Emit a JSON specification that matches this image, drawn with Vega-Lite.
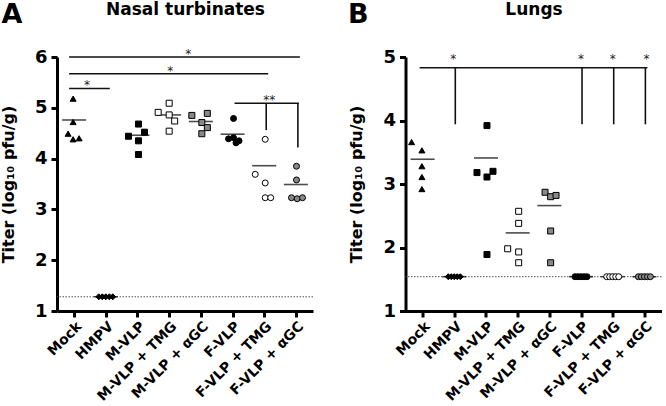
{
  "$schema": "https://vega.github.io/schema/vega-lite/v6.json",
  "padding": {"left": 0, "top": 0, "right": 0, "bottom": 0},
  "background": "white",
  "config": {
    "font": "DejaVu Sans",
    "view": {"stroke": null},
    "axis": {"grid": false, "domainColor": "#000", "tickColor": "#000", "labelColor": "#000", "titleColor": "#000", "labelFont": "DejaVu Sans", "titleFont": "DejaVu Sans"},
    "title": {"font": "DejaVu Sans", "color": "#000"}
  },
  "datasets": {
    "pts": [
      {"panel": "A", "group": "Mock", "titer": 5.18, "jitter": -1},
      {"panel": "A", "group": "Mock", "titer": 4.72, "jitter": -1},
      {"panel": "A", "group": "Mock", "titer": 4.49, "jitter": -6},
      {"panel": "A", "group": "Mock", "titer": 4.38, "jitter": -1},
      {"panel": "A", "group": "Mock", "titer": 4.40, "jitter": 5},
      {"panel": "A", "group": "HMPV", "titer": 1.28, "jitter": -7},
      {"panel": "A", "group": "HMPV", "titer": 1.28, "jitter": -3.5},
      {"panel": "A", "group": "HMPV", "titer": 1.28, "jitter": 0},
      {"panel": "A", "group": "HMPV", "titer": 1.28, "jitter": 3.5},
      {"panel": "A", "group": "HMPV", "titer": 1.28, "jitter": 7},
      {"panel": "A", "group": "M-VLP", "titer": 4.44, "jitter": -9},
      {"panel": "A", "group": "M-VLP", "titer": 4.68, "jitter": 1},
      {"panel": "A", "group": "M-VLP", "titer": 4.52, "jitter": 7},
      {"panel": "A", "group": "M-VLP", "titer": 4.35, "jitter": 1},
      {"panel": "A", "group": "M-VLP", "titer": 4.08, "jitter": 1},
      {"panel": "A", "group": "M-VLP + TMG", "titer": 5.09, "jitter": 0},
      {"panel": "A", "group": "M-VLP + TMG", "titer": 4.91, "jitter": -11},
      {"panel": "A", "group": "M-VLP + TMG", "titer": 4.86, "jitter": 0},
      {"panel": "A", "group": "M-VLP + TMG", "titer": 4.74, "jitter": 5.5},
      {"panel": "A", "group": "M-VLP + TMG", "titer": 4.54, "jitter": 0},
      {"panel": "A", "group": "M-VLP + αGC", "titer": 4.85, "jitter": -9},
      {"panel": "A", "group": "M-VLP + αGC", "titer": 4.89, "jitter": 6.5},
      {"panel": "A", "group": "M-VLP + αGC", "titer": 4.71, "jitter": 1},
      {"panel": "A", "group": "M-VLP + αGC", "titer": 4.61, "jitter": 6.5},
      {"panel": "A", "group": "M-VLP + αGC", "titer": 4.49, "jitter": 1},
      {"panel": "A", "group": "F-VLP", "titer": 4.79, "jitter": 1},
      {"panel": "A", "group": "F-VLP", "titer": 4.39, "jitter": -4},
      {"panel": "A", "group": "F-VLP", "titer": 4.41, "jitter": 1},
      {"panel": "A", "group": "F-VLP", "titer": 4.31, "jitter": 3.5},
      {"panel": "A", "group": "F-VLP", "titer": 4.35, "jitter": 6.5},
      {"panel": "A", "group": "F-VLP + TMG", "titer": 4.38, "jitter": 1},
      {"panel": "A", "group": "F-VLP + TMG", "titer": 3.69, "jitter": -9},
      {"panel": "A", "group": "F-VLP + TMG", "titer": 3.52, "jitter": 1},
      {"panel": "A", "group": "F-VLP + TMG", "titer": 3.23, "jitter": 1},
      {"panel": "A", "group": "F-VLP + TMG", "titer": 3.23, "jitter": 6.5},
      {"panel": "A", "group": "F-VLP + αGC", "titer": 3.85, "jitter": 0.6},
      {"panel": "A", "group": "F-VLP + αGC", "titer": 3.58, "jitter": 0.6},
      {"panel": "A", "group": "F-VLP + αGC", "titer": 3.23, "jitter": -4.4},
      {"panel": "A", "group": "F-VLP + αGC", "titer": 3.21, "jitter": 1.3},
      {"panel": "A", "group": "F-VLP + αGC", "titer": 3.23, "jitter": 6.6},
      {"panel": "B", "group": "Mock", "titer": 3.66, "jitter": -11},
      {"panel": "B", "group": "Mock", "titer": 3.53, "jitter": -0.7},
      {"panel": "B", "group": "Mock", "titer": 3.28, "jitter": -0.7},
      {"panel": "B", "group": "Mock", "titer": 3.11, "jitter": -0.7},
      {"panel": "B", "group": "Mock", "titer": 2.92, "jitter": -0.7},
      {"panel": "B", "group": "HMPV", "titer": 1.54, "jitter": -6},
      {"panel": "B", "group": "HMPV", "titer": 1.54, "jitter": -3},
      {"panel": "B", "group": "HMPV", "titer": 1.54, "jitter": 0},
      {"panel": "B", "group": "HMPV", "titer": 1.54, "jitter": 3},
      {"panel": "B", "group": "HMPV", "titer": 1.54, "jitter": 6},
      {"panel": "B", "group": "M-VLP", "titer": 3.92, "jitter": 1},
      {"panel": "B", "group": "M-VLP", "titer": 3.18, "jitter": -9},
      {"panel": "B", "group": "M-VLP", "titer": 3.11, "jitter": 1},
      {"panel": "B", "group": "M-VLP", "titer": 3.20, "jitter": 7},
      {"panel": "B", "group": "M-VLP", "titer": 1.89, "jitter": 1},
      {"panel": "B", "group": "M-VLP + TMG", "titer": 2.57, "jitter": 1},
      {"panel": "B", "group": "M-VLP + TMG", "titer": 2.38, "jitter": 1},
      {"panel": "B", "group": "M-VLP + TMG", "titer": 1.98, "jitter": -10},
      {"panel": "B", "group": "M-VLP + TMG", "titer": 1.93, "jitter": 1},
      {"panel": "B", "group": "M-VLP + TMG", "titer": 1.76, "jitter": 1},
      {"panel": "B", "group": "M-VLP + αGC", "titer": 2.87, "jitter": -4.3},
      {"panel": "B", "group": "M-VLP + αGC", "titer": 2.80, "jitter": 1.3},
      {"panel": "B", "group": "M-VLP + αGC", "titer": 2.82, "jitter": 6.7},
      {"panel": "B", "group": "M-VLP + αGC", "titer": 2.26, "jitter": 1.3},
      {"panel": "B", "group": "M-VLP + αGC", "titer": 1.76, "jitter": 1.3},
      {"panel": "B", "group": "F-VLP", "titer": 1.54, "jitter": -6},
      {"panel": "B", "group": "F-VLP", "titer": 1.54, "jitter": -3},
      {"panel": "B", "group": "F-VLP", "titer": 1.54, "jitter": 0},
      {"panel": "B", "group": "F-VLP", "titer": 1.54, "jitter": 3},
      {"panel": "B", "group": "F-VLP", "titer": 1.54, "jitter": 6},
      {"panel": "B", "group": "F-VLP + TMG", "titer": 1.54, "jitter": -6},
      {"panel": "B", "group": "F-VLP + TMG", "titer": 1.54, "jitter": -3},
      {"panel": "B", "group": "F-VLP + TMG", "titer": 1.54, "jitter": 0},
      {"panel": "B", "group": "F-VLP + TMG", "titer": 1.54, "jitter": 3},
      {"panel": "B", "group": "F-VLP + TMG", "titer": 1.54, "jitter": 6},
      {"panel": "B", "group": "F-VLP + αGC", "titer": 1.54, "jitter": -6},
      {"panel": "B", "group": "F-VLP + αGC", "titer": 1.54, "jitter": -3},
      {"panel": "B", "group": "F-VLP + αGC", "titer": 1.54, "jitter": 0},
      {"panel": "B", "group": "F-VLP + αGC", "titer": 1.54, "jitter": 3},
      {"panel": "B", "group": "F-VLP + αGC", "titer": 1.54, "jitter": 6}
    ],
    "means": [
      {"panel": "A", "group": "Mock", "titer": 4.76},
      {"panel": "A", "group": "HMPV", "titer": 1.28},
      {"panel": "A", "group": "M-VLP", "titer": 4.46},
      {"panel": "A", "group": "M-VLP + TMG", "titer": 4.86},
      {"panel": "A", "group": "M-VLP + αGC", "titer": 4.73},
      {"panel": "A", "group": "F-VLP", "titer": 4.48},
      {"panel": "A", "group": "F-VLP + TMG", "titer": 3.86},
      {"panel": "A", "group": "F-VLP + αGC", "titer": 3.49},
      {"panel": "B", "group": "Mock", "titer": 3.39},
      {"panel": "B", "group": "HMPV", "titer": 1.54},
      {"panel": "B", "group": "M-VLP", "titer": 3.41},
      {"panel": "B", "group": "M-VLP + TMG", "titer": 2.23},
      {"panel": "B", "group": "M-VLP + αGC", "titer": 2.66},
      {"panel": "B", "group": "F-VLP", "titer": 1.54},
      {"panel": "B", "group": "F-VLP + TMG", "titer": 1.54},
      {"panel": "B", "group": "F-VLP + αGC", "titer": 1.54}
    ],
    "lod": [
      {"panel": "A", "titer": 1.28},
      {"panel": "B", "titer": 1.54}
    ],
    "brackets": [
      {"panel": "A", "from": "Mock", "to": "F-VLP + αGC", "y": 6.0},
      {"panel": "A", "from": "Mock", "to": "F-VLP + TMG", "y": 5.67},
      {"panel": "A", "from": "Mock", "to": "HMPV", "y": 5.38},
      {"panel": "A", "from": "F-VLP", "to": "F-VLP + αGC", "y": 5.09},
      {"panel": "B", "from": "Mock", "to": "F-VLP + αGC", "y": 4.83}
    ],
    "drops": [
      {"panel": "A", "group": "F-VLP + TMG", "top": 5.09, "bottom": 4.56},
      {"panel": "A", "group": "F-VLP + αGC", "top": 5.09, "bottom": 4.22},
      {"panel": "B", "group": "HMPV", "top": 4.83, "bottom": 3.94},
      {"panel": "B", "group": "F-VLP", "top": 4.83, "bottom": 3.94},
      {"panel": "B", "group": "F-VLP + TMG", "top": 4.83, "bottom": 3.94},
      {"panel": "B", "group": "F-VLP + αGC", "top": 4.83, "bottom": 3.94}
    ],
    "stars": [
      {"panel": "A", "group": "M-VLP + TMG", "jitter": 19, "y": 6.11, "label": "*"},
      {"panel": "A", "group": "M-VLP + TMG", "jitter": 1, "y": 5.79, "label": "*"},
      {"panel": "A", "group": "Mock", "jitter": 13, "y": 5.51, "label": "*"},
      {"panel": "A", "group": "F-VLP + TMG", "jitter": 5, "y": 5.21, "label": "**"},
      {"panel": "B", "group": "HMPV", "jitter": -1, "y": 5.02, "label": "*"},
      {"panel": "B", "group": "F-VLP", "jitter": 0, "y": 5.02, "label": "*"},
      {"panel": "B", "group": "F-VLP + TMG", "jitter": 0, "y": 5.02, "label": "*"},
      {"panel": "B", "group": "F-VLP + αGC", "jitter": 2, "y": 5.02, "label": "*"}
    ]
  },
  "spacing": 92.5,
  "bounds": "flush",
  "hconcat": [
    {
      "width": 256,
      "height": 254,
      "title": {"text": "A", "anchor": "start", "frame": "bounds", "fontSize": 27, "fontWeight": "bold", "baseline": "alphabetic", "offset": -49, "dx": 1},
      "resolve": {"axis": {"x": "independent"}},
      "layer": [
        {
          "data": {"name": "lod"},
          "transform": [{"filter": "datum.panel === 'A'"}],
          "mark": {"type": "rule", "strokeDash": [1.5, 1.5], "color": "#555", "strokeWidth": 1},
          "encoding": {
            "y": {"field": "titer", "type": "quantitative", "scale": {"domain": [1, 6], "nice": false, "zero": false},
              "axis": {"values": [1, 2, 3, 4, 5, 6], "format": "d", "title": "Titer (log₁₀ pfu/g)", "titleFontSize": 16, "titleFontWeight": "bold", "labelFontSize": 18, "labelFontWeight": "bold", "domainWidth": 3, "tickWidth": 3, "tickSize": 6, "labelPadding": 4, "titlePadding": 18}}
          }
        },
        {
          "data": {"name": "means"},
          "transform": [{"filter": "datum.panel === 'A'"}],
          "mark": {"type": "tick", "orient": "horizontal", "size": 24, "thickness": 1.6, "color": "#000"},
          "encoding": {
            "x": {"field": "group", "type": "nominal", "scale": {"type": "point", "domain": ["Mock", "HMPV", "M-VLP", "M-VLP + TMG", "M-VLP + αGC", "F-VLP", "F-VLP + TMG", "F-VLP + αGC"], "padding": 0.54},
              "axis": {"orient": "top", "title": "Nasal turbinates", "titleFontSize": 17, "titleFontWeight": "bold", "labels": false, "ticks": false, "domain": false, "titlePadding": 38.5}},
            "y": {"field": "titer", "type": "quantitative"}
          }
        },
        {
          "data": {"name": "pts"},
          "transform": [{"filter": "datum.panel === 'A'"}],
          "mark": {"type": "point", "filled": true, "stroke": "#000", "strokeWidth": 1, "size": 36, "opacity": 1, "xOffset": {"expr": "datum.jitter"}},
          "encoding": {
            "x": {"field": "group", "type": "nominal", "axis": {"orient": "bottom", "title": null, "labelAngle": -45, "labelFontSize": 14, "labelFontWeight": "bold", "domainWidth": 3, "tickWidth": 3, "tickSize": 6, "labelPadding": 2}},
            "y": {"field": "titer", "type": "quantitative"},
            "shape": {"field": "group", "type": "nominal", "scale": {"domain": ["Mock", "HMPV", "M-VLP", "M-VLP + TMG", "M-VLP + αGC", "F-VLP", "F-VLP + TMG", "F-VLP + αGC"], "range": ["triangle-up", "diamond", "square", "square", "square", "circle", "circle", "circle"]}, "legend": null},
            "fill": {"field": "group", "type": "nominal", "scale": {"domain": ["Mock", "HMPV", "M-VLP", "M-VLP + TMG", "M-VLP + αGC", "F-VLP", "F-VLP + TMG", "F-VLP + αGC"], "range": ["#000", "#000", "#000", "#fff", "#888", "#000", "#fff", "#888"]}, "legend": null}
          }
        },
        {
          "data": {"name": "brackets"},
          "transform": [{"filter": "datum.panel === 'A' && datum.from === 'Mock'"}],
          "mark": {"type": "rule", "color": "#111", "strokeWidth": 1.6, "xOffset": -5, "x2Offset": 4},
          "encoding": {
            "x": {"field": "from", "type": "nominal", "axis": null},
            "x2": {"field": "to"},
            "y": {"field": "y", "type": "quantitative"}
          }
        },
        {
          "data": {"name": "brackets"},
          "transform": [{"filter": "datum.panel === 'A' && datum.from !== 'Mock'"}],
          "mark": {"type": "rule", "color": "#111", "strokeWidth": 1.6, "xOffset": 2, "x2Offset": 3},
          "encoding": {
            "x": {"field": "from", "type": "nominal", "axis": null},
            "x2": {"field": "to"},
            "y": {"field": "y", "type": "quantitative"}
          }
        },
        {
          "data": {"name": "drops"},
          "transform": [{"filter": "datum.panel === 'A'"}],
          "mark": {"type": "rule", "color": "#111", "strokeWidth": 1.6, "xOffset": 2},
          "encoding": {
            "x": {"field": "group", "type": "nominal", "axis": null},
            "y": {"field": "top", "type": "quantitative"},
            "y2": {"field": "bottom"}
          }
        },
        {
          "data": {"name": "stars"},
          "transform": [{"filter": "datum.panel === 'A'"}],
          "mark": {"type": "text", "fontSize": 12, "baseline": "middle", "dy": 3, "fill": "#222", "xOffset": {"expr": "datum.jitter"}},
          "encoding": {
            "x": {"field": "group", "type": "nominal", "axis": null},
            "y": {"field": "y", "type": "quantitative"},
            "text": {"field": "label"}
          }
        }
      ]
    },
    {
      "width": 256,
      "height": 254,
      "title": {"text": "B", "anchor": "start", "frame": "bounds", "fontSize": 27, "fontWeight": "bold", "baseline": "alphabetic", "offset": -49, "dx": -1},
      "resolve": {"axis": {"x": "independent"}},
      "layer": [
        {
          "data": {"name": "lod"},
          "transform": [{"filter": "datum.panel === 'B'"}],
          "mark": {"type": "rule", "strokeDash": [1.5, 1.5], "color": "#555", "strokeWidth": 1},
          "encoding": {
            "y": {"field": "titer", "type": "quantitative", "scale": {"domain": [1, 5], "nice": false, "zero": false},
              "axis": {"values": [1, 2, 3, 4, 5], "format": "d", "title": "Titer (log₁₀ pfu/g)", "titleFontSize": 16, "titleFontWeight": "bold", "labelFontSize": 18, "labelFontWeight": "bold", "domainWidth": 3, "tickWidth": 3, "tickSize": 6, "labelPadding": 4, "titlePadding": 18}}
          }
        },
        {
          "data": {"name": "means"},
          "transform": [{"filter": "datum.panel === 'B'"}],
          "mark": {"type": "tick", "orient": "horizontal", "size": 24, "thickness": 1.6, "color": "#000"},
          "encoding": {
            "x": {"field": "group", "type": "nominal", "scale": {"type": "point", "domain": ["Mock", "HMPV", "M-VLP", "M-VLP + TMG", "M-VLP + αGC", "F-VLP", "F-VLP + TMG", "F-VLP + αGC"], "padding": 0.54},
              "axis": {"orient": "top", "title": "Lungs", "titleFontSize": 17, "titleFontWeight": "bold", "labels": false, "ticks": false, "domain": false, "titlePadding": 38.5}},
            "y": {"field": "titer", "type": "quantitative"}
          }
        },
        {
          "data": {"name": "pts"},
          "transform": [{"filter": "datum.panel === 'B'"}],
          "mark": {"type": "point", "filled": true, "stroke": "#000", "strokeWidth": 1, "size": 36, "opacity": 1, "xOffset": {"expr": "datum.jitter"}},
          "encoding": {
            "x": {"field": "group", "type": "nominal", "axis": {"orient": "bottom", "title": null, "labelAngle": -45, "labelFontSize": 14, "labelFontWeight": "bold", "domainWidth": 3, "tickWidth": 3, "tickSize": 6, "labelPadding": 2}},
            "y": {"field": "titer", "type": "quantitative"},
            "shape": {"field": "group", "type": "nominal", "scale": {"domain": ["Mock", "HMPV", "M-VLP", "M-VLP + TMG", "M-VLP + αGC", "F-VLP", "F-VLP + TMG", "F-VLP + αGC"], "range": ["triangle-up", "diamond", "square", "square", "square", "circle", "circle", "circle"]}, "legend": null},
            "fill": {"field": "group", "type": "nominal", "scale": {"domain": ["Mock", "HMPV", "M-VLP", "M-VLP + TMG", "M-VLP + αGC", "F-VLP", "F-VLP + TMG", "F-VLP + αGC"], "range": ["#000", "#000", "#000", "#fff", "#888", "#000", "#fff", "#888"]}, "legend": null}
          }
        },
        {
          "data": {"name": "brackets"},
          "transform": [{"filter": "datum.panel === 'B'"}],
          "mark": {"type": "rule", "color": "#111", "strokeWidth": 1.6, "xOffset": -3, "x2Offset": 3},
          "encoding": {
            "x": {"field": "from", "type": "nominal", "axis": null},
            "x2": {"field": "to"},
            "y": {"field": "y", "type": "quantitative"}
          }
        },
        {
          "data": {"name": "drops"},
          "transform": [{"filter": "datum.panel === 'B'"}],
          "mark": {"type": "rule", "color": "#111", "strokeWidth": 1.6, "xOffset": 1},
          "encoding": {
            "x": {"field": "group", "type": "nominal", "axis": null},
            "y": {"field": "top", "type": "quantitative"},
            "y2": {"field": "bottom"}
          }
        },
        {
          "data": {"name": "stars"},
          "transform": [{"filter": "datum.panel === 'B'"}],
          "mark": {"type": "text", "fontSize": 12, "baseline": "middle", "dy": 3, "fill": "#222", "xOffset": {"expr": "datum.jitter"}},
          "encoding": {
            "x": {"field": "group", "type": "nominal", "axis": null},
            "y": {"field": "y", "type": "quantitative"},
            "text": {"field": "label"}
          }
        }
      ]
    }
  ]
}
